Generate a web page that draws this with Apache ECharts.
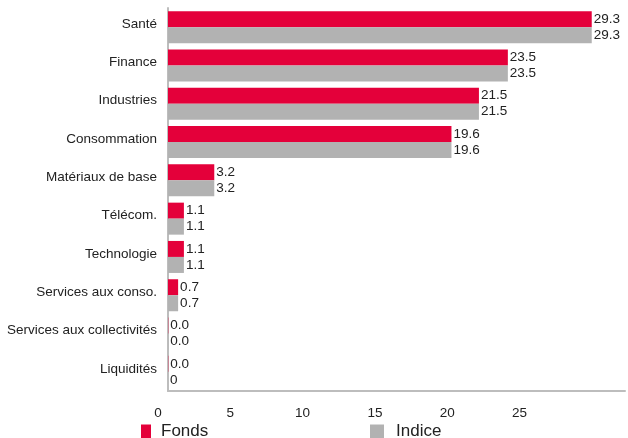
<!DOCTYPE html>
<html><head><meta charset="utf-8">
<script src="https://cdn.jsdelivr.net/npm/echarts@6/dist/echarts.min.js"></script>
<style>html,body{margin:0;padding:0;background:#fff}#c{width:628px;height:438px}</style>
</head><body><div id="c"></div>
<script>
var categories = ['Santé','Finance','Industries','Consommation','Matériaux de base','Télécom.','Technologie','Services aux conso.','Services aux collectivités','Liquidités'];
var fonds = [29.3,23.5,21.5,19.6,3.2,1.1,1.1,0.7,0.02,0.02];
var indice = [29.3,23.5,21.5,19.6,3.2,1.1,1.1,0.7,0.02,0];
var xTicks = [0,5,10,15,20,25];

function fmt(p){ return p.value === 0 ? '0' : p.value.toFixed(1); }
var font = 'Liberation Sans, Arial, sans-serif';
var chart = echarts.init(document.getElementById('c'));
chart.setOption({
  animation:false,
  textStyle:{fontFamily:font},
  grid:{left:168,right:1,top:8,bottom:47,containLabel:false},
  legend:[
    {data:['Fonds'],left:136,top:418,itemWidth:10,itemHeight:14,itemGap:0,icon:'rect',
     textStyle:{fontSize:17,color:'#222',fontFamily:font,padding:[0,0,0,5]}},
    {data:['Indice'],left:365,top:418,itemWidth:14,itemHeight:14,itemGap:0,icon:'rect',
     textStyle:{fontSize:17,color:'#222',fontFamily:font,padding:[0,0,0,7]}}
  ],
  xAxis:{type:'value',min:0,max:31.6,interval:5,
    axisLine:{show:true,lineStyle:{color:'#BDBDBD',width:2}},
    axisTick:{show:false},splitLine:{show:false},
    axisLabel:{color:'#222',fontSize:13.5,margin:15,padding:[0,20,0,0],
      formatter:function(v){return xTicks.indexOf(v)>=0?String(v):'';}}
  },
  yAxis:{type:'category',data:categories,inverse:true,
    axisLine:{show:true,lineStyle:{color:'#BDBDBD',width:2}},
    axisTick:{show:false},
    axisLabel:{color:'#222',fontSize:13.5,margin:11,verticalAlign:'bottom',lineHeight:6}
  },
  series:[
    {name:'Fonds',type:'bar',data:fonds,barWidth:16,barGap:'0%',
     itemStyle:{color:'#E4003A'},
     label:{show:true,position:'right',distance:2,color:'#222',fontSize:13.5,formatter:fmt}},
    {name:'Indice',type:'bar',data:indice,barWidth:16,barGap:'0%',
     itemStyle:{color:'#B2B2B2'},
     label:{show:true,position:'right',distance:2,color:'#222',fontSize:13.5,formatter:fmt}}
  ]
});
</script></body></html>
